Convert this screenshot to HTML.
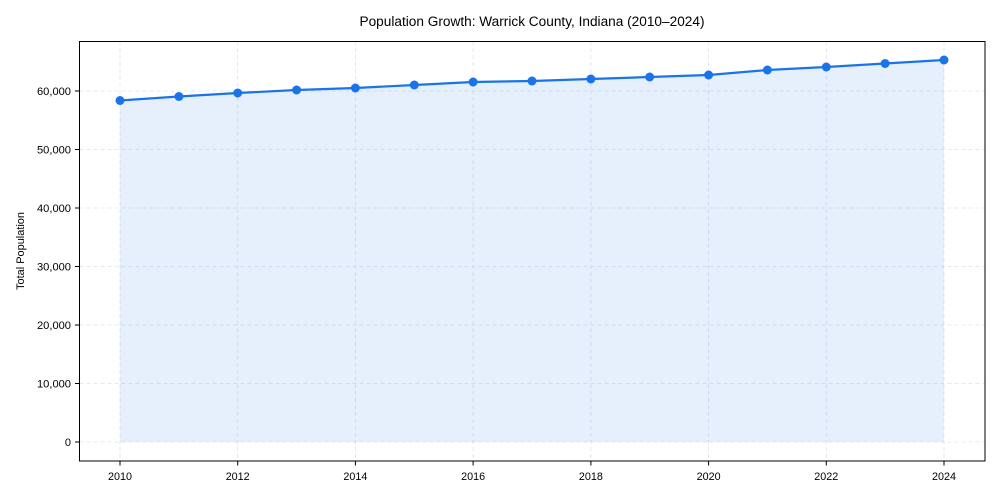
<!DOCTYPE html>
<html><head><meta charset="utf-8"><style>
html,body{margin:0;padding:0;background:#fff}
svg{display:block;font-family:"Liberation Sans",sans-serif}
</style></head><body>
<svg width="1000" height="500" viewBox="0 0 1000 500" xmlns="http://www.w3.org/2000/svg">
<rect width="1000" height="500" fill="#fff"/>
<g stroke="#dde2ea" stroke-width="0.8" stroke-dasharray="4,3">
<line x1="79.5" y1="442" x2="985" y2="442"/>
<line x1="79.5" y1="383.5" x2="985" y2="383.5"/>
<line x1="79.5" y1="325" x2="985" y2="325"/>
<line x1="79.5" y1="266.5" x2="985" y2="266.5"/>
<line x1="79.5" y1="208" x2="985" y2="208"/>
<line x1="79.5" y1="149.5" x2="985" y2="149.5"/>
<line x1="79.5" y1="91" x2="985" y2="91"/>
<line x1="120" y1="41" x2="120" y2="461"/>
<line x1="237.7" y1="41" x2="237.7" y2="461"/>
<line x1="355.4" y1="41" x2="355.4" y2="461"/>
<line x1="473.1" y1="41" x2="473.1" y2="461"/>
<line x1="590.9" y1="41" x2="590.9" y2="461"/>
<line x1="708.6" y1="41" x2="708.6" y2="461"/>
<line x1="826.3" y1="41" x2="826.3" y2="461"/>
<line x1="944" y1="41" x2="944" y2="461"/>
</g>
<polygon fill="#1a73e8" fill-opacity="0.11" points="120,442 120,100.5 178.9,96.5 237.7,93 296.6,90 355.4,88 414.3,85 473.1,82 532,81 590.9,79 649.7,77 708.6,75 767.4,70 826.3,67 885.1,63.5 944,60 944,442"/>
<polyline fill="none" stroke="#1a73e8" stroke-width="2.2" points="120,100.5 178.9,96.5 237.7,93 296.6,90 355.4,88 414.3,85 473.1,82 532,81 590.9,79 649.7,77 708.6,75 767.4,70 826.3,67 885.1,63.5 944,60"/>
<g fill="#1a73e8">
<circle cx="120" cy="100.5" r="4.5"/><circle cx="178.9" cy="96.5" r="4.5"/><circle cx="237.7" cy="93" r="4.5"/><circle cx="296.6" cy="90" r="4.5"/><circle cx="355.4" cy="88" r="4.5"/><circle cx="414.3" cy="85" r="4.5"/><circle cx="473.1" cy="82" r="4.5"/><circle cx="532" cy="81" r="4.5"/><circle cx="590.9" cy="79" r="4.5"/><circle cx="649.7" cy="77" r="4.5"/><circle cx="708.6" cy="75" r="4.5"/><circle cx="767.4" cy="70" r="4.5"/><circle cx="826.3" cy="67" r="4.5"/><circle cx="885.1" cy="63.5" r="4.5"/><circle cx="944" cy="60" r="4.5"/>
</g>
<rect x="79.5" y="41.5" width="905.5" height="419.5" fill="none" stroke="#000" stroke-width="1"/>
<g stroke="#000" stroke-width="1">
<line x1="75" y1="442" x2="79.5" y2="442"/><line x1="75" y1="383.5" x2="79.5" y2="383.5"/><line x1="75" y1="325" x2="79.5" y2="325"/><line x1="75" y1="266.5" x2="79.5" y2="266.5"/><line x1="75" y1="208" x2="79.5" y2="208"/><line x1="75" y1="149.5" x2="79.5" y2="149.5"/><line x1="75" y1="91" x2="79.5" y2="91"/>
<line x1="120" y1="461" x2="120" y2="465.5"/><line x1="237.7" y1="461" x2="237.7" y2="465.5"/><line x1="355.4" y1="461" x2="355.4" y2="465.5"/><line x1="473.1" y1="461" x2="473.1" y2="465.5"/><line x1="590.9" y1="461" x2="590.9" y2="465.5"/><line x1="708.6" y1="461" x2="708.6" y2="465.5"/><line x1="826.3" y1="461" x2="826.3" y2="465.5"/><line x1="944" y1="461" x2="944" y2="465.5"/>
</g>
<g font-size="11" fill="#000" text-anchor="end">
<text x="71" y="446" textLength="7">0</text>
<text x="71" y="387.5" textLength="34" lengthAdjust="spacingAndGlyphs">10,000</text>
<text x="71" y="329" textLength="34" lengthAdjust="spacingAndGlyphs">20,000</text>
<text x="71" y="270.5" textLength="34" lengthAdjust="spacingAndGlyphs">30,000</text>
<text x="71" y="212" textLength="34" lengthAdjust="spacingAndGlyphs">40,000</text>
<text x="71" y="153.5" textLength="34" lengthAdjust="spacingAndGlyphs">50,000</text>
<text x="71" y="95" textLength="34" lengthAdjust="spacingAndGlyphs">60,000</text>
</g>
<g font-size="11" fill="#000" text-anchor="middle">
<text x="120" y="480" textLength="24" lengthAdjust="spacingAndGlyphs">2010</text>
<text x="237.7" y="480" textLength="24" lengthAdjust="spacingAndGlyphs">2012</text>
<text x="355.4" y="480" textLength="24" lengthAdjust="spacingAndGlyphs">2014</text>
<text x="473.1" y="480" textLength="24" lengthAdjust="spacingAndGlyphs">2016</text>
<text x="590.9" y="480" textLength="24" lengthAdjust="spacingAndGlyphs">2018</text>
<text x="708.6" y="480" textLength="24" lengthAdjust="spacingAndGlyphs">2020</text>
<text x="826.3" y="480" textLength="24" lengthAdjust="spacingAndGlyphs">2022</text>
<text x="944" y="480" textLength="24" lengthAdjust="spacingAndGlyphs">2024</text>
</g>
<text x="24" y="251" font-size="11" text-anchor="middle" transform="rotate(-90 24 251)" textLength="78" lengthAdjust="spacingAndGlyphs">Total Population</text>
<text x="532" y="26" font-size="13.5" text-anchor="middle" textLength="345" lengthAdjust="spacingAndGlyphs">Population Growth: Warrick County, Indiana (2010–2024)</text>
</svg>
</body></html>
